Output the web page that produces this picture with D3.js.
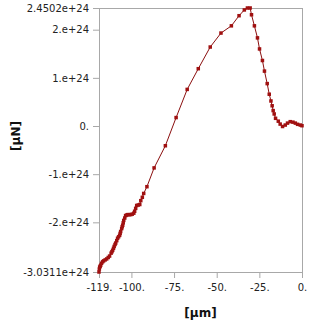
<!DOCTYPE html>
<html>
<head>
<meta charset="utf-8">
<script src="https://cdn.jsdelivr.net/npm/d3@7"></script>
<style>
  body { margin:0; background:#fff; }
  text { font-family: "DejaVu Sans", sans-serif; }
</style>
</head>
<body>
<div id="chart"></div>
<script>
// displacement [μm] vs force [μN] (force in units of 1e24)
const xVals = [-119, -118.8, -118.6, -118.3, -118.0, -117.5, -116.9, -116.3, -115.4, -114.5, -113.6, -112.8, -111.9, -111.4, -111.0,
  -110.5, -110.1, -109.6, -109.2, -108.6, -108.1, -107.5, -106.9, -106.6, -106.3, -105.7, -105.4, -105.1, -104.8, -104.5, -103.9, -103.4, -102.8, -102.2,
  -101.3, -100.4, -99.5, -98.6, -98.1, -97.5, -96.9, -96.0, -95.1, -94.5, -93.6, -92.8, -90.9, -86.7, -80.1,
  -73.8, -67.3, -60.8, -53.8, -47.5, -41.4, -36.9, -33.8, -32.0, -30.4, -29.6, -27.9, -26.1, -24.9, -23.2,
  -22.0, -20.4, -19.2, -18.2, -17.5, -16.9, -16.3, -15.5, -13.9, -12.8, -11.4, -9.8, -8.5, -6.9, -5.3, -3.9,
  -2.6, -1.0, 0];
const yVals = [-3.0311, -2.97, -2.93, -2.91, -2.89, -2.85, -2.82, -2.80, -2.78, -2.76, -2.73, -2.70, -2.64, -2.61, -2.58,
  -2.54, -2.50, -2.46, -2.43, -2.38, -2.33, -2.30, -2.27, -2.23, -2.19, -2.13, -2.09, -2.06, -2.01, -1.96, -1.91, -1.86, -1.85, -1.84,
  -1.84, -1.84, -1.83, -1.81, -1.77, -1.71, -1.65, -1.64, -1.63, -1.55, -1.48, -1.40, -1.26, -0.87, -0.41,
  0.175, 0.76, 1.19, 1.64, 1.93, 2.08, 2.29, 2.41, 2.4502, 2.4502, 2.31, 2.08, 1.83, 1.60, 1.36,
  1.14, 0.88, 0.66, 0.52, 0.42, 0.32, 0.25, 0.16, 0.10, 0.04, -0.01, 0.02, 0.06, 0.09, 0.08, 0.06,
  0.035, 0.02, 0.006];

const xTicks = [-119, -100, -75, -50, -25, 0];
const xTickLabels = ["-119.", "-100.", "-75.", "-50.", "-25.", "0."];
const yTicks = [2.4502, 2, 1, 0, -1, -2, -3.0311];
const yTickLabels = ["2.4502e+24", "2.e+24", "1.e+24", "0.", "-1.e+24", "-2.e+24", "-3.0311e+24"];

const data = xVals.map((x, i) => ({ x: x, y: yVals[i] }));

const W = 315, H = 329;
const m = { top: 8, right: 13, bottom: 57, left: 99 };
const iw = W - m.left - m.right, ih = H - m.top - m.bottom;

const svg = d3.select("#chart").append("svg").attr("width", W).attr("height", H);
const g = svg.append("g").attr("transform", `translate(${m.left},${m.top})`);

const x = d3.scaleLinear().domain([-119, 0]).range([0, iw]);
const y = d3.scaleLinear().domain([-3.0311, 2.4502]).range([ih, 0]);

// frame
g.append("rect").attr("x", 0.5).attr("y", 0.5).attr("width", iw).attr("height", ih)
  .attr("fill", "none").attr("stroke", "#a8a8a8");

const gy = g.append("g").call(d3.axisLeft(y).tickValues(yTicks).tickSize(6).tickPadding(4)
  .tickFormat((d, i) => yTickLabels[i]));
const gx = g.append("g").attr("transform", `translate(0,${ih})`)
  .call(d3.axisBottom(x).tickValues(xTicks).tickSize(6).tickPadding(6)
  .tickFormat((d, i) => xTickLabels[i]));

[gx, gy].forEach(a => {
  a.select(".domain").attr("stroke", "#a8a8a8");
  a.selectAll(".tick line").attr("stroke", "#a8a8a8");
  a.selectAll(".tick text").attr("fill", "#222").style("font-size", "10px")
    .style("font-family", "DejaVu Sans, sans-serif");
});

// axis titles
svg.append("text").attr("x", m.left + iw / 2).attr("y", 317).attr("text-anchor", "middle")
  .style("font-size", "12px").style("font-weight", "bold").attr("fill", "#111").text("[μm]");
svg.append("text").attr("transform", "translate(20,136) rotate(-90)").attr("text-anchor", "middle")
  .style("font-size", "12px").style("font-weight", "bold").attr("fill", "#111").text("[μN]");

const line = d3.line().x(d => x(d.x)).y(d => y(d.y));
g.append("path").datum(data).attr("d", line)
  .attr("fill", "none").attr("stroke", "#8b0f0f").attr("stroke-width", 1);

g.selectAll("rect.pt").data(data).enter().append("rect").attr("class", "pt")
  .attr("x", d => x(d.x) - 1.75).attr("y", d => y(d.y) - 1.75)
  .attr("width", 3.5).attr("height", 3.5).attr("fill", "#a01010");
</script>
</body>
</html>
